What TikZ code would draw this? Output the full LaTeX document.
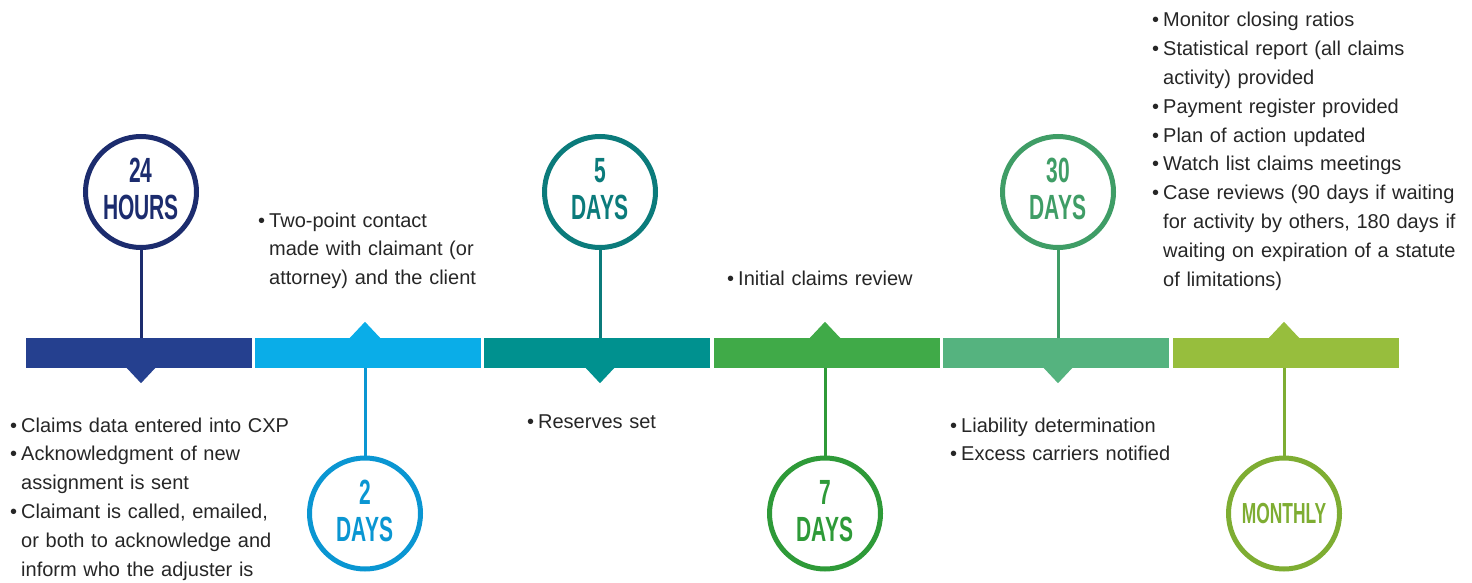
\documentclass[tikz,border=0pt]{standalone}
\usepackage{fontspec}
\setmainfont{Liberation Sans}
\newfontfamily\ringfont[FakeStretch=0.6]{Liberation Sans}
\usetikzlibrary{positioning}

\definecolor{hoursbar}{HTML}{25408F}
\definecolor{hoursring}{HTML}{1C2C6E}
\definecolor{twobar}{HTML}{0AADE8}
\definecolor{tworing}{HTML}{0A96D2}
\definecolor{fivebar}{HTML}{00918F}
\definecolor{fivering}{HTML}{0B7B7B}
\definecolor{sevenbar}{HTML}{40AA48}
\definecolor{sevenring}{HTML}{2E9A38}
\definecolor{thirtybar}{HTML}{55B37F}
\definecolor{thirtyring}{HTML}{3F9D66}
\definecolor{monthbar}{HTML}{97BE3D}
\definecolor{monthring}{HTML}{7EAD32}

\newcommand{\tlitem}[1]{\noindent\makebox[11pt][l]{\textbullet}#1\par}
\newcommand{\tlcont}[1]{\noindent\hspace*{11pt}#1\par}

\tikzset{
    seg/.style={rectangle, minimum width=226pt, minimum height=30pt, inner sep=0pt},
    ring/.style={circle, draw, line width=5pt, minimum size=111pt, inner sep=0pt, fill=white,
        align=center, font=\ringfont\bfseries\fontsize{35}{37}\selectfont},
    stem/.style={line width=3pt},
    note/.style={anchor=base west, inner sep=0pt, text width=330pt, align=left,
        text=black!85, font=\fontsize{20}{28.8}\selectfont}
}

\begin{document}
\begin{tikzpicture}[x=1pt, y=-1pt]
    \useasboundingbox (0,0) rectangle (1472,583);

    % timeline bar
    \node[seg, fill=hoursbar]  (seg1) at (139,353) {};
    \node[seg, fill=twobar]    (seg2) at (368,353) {};
    \node[seg, fill=fivebar]   (seg3) at (597,353) {};
    \node[seg, fill=sevenbar]  (seg4) at (826.5,353) {};
    \node[seg, fill=thirtybar] (seg5) at (1056,353) {};
    \node[seg, fill=monthbar]  (seg6) at (1286,353) {};

    % rings
    \node[ring, draw=hoursring, text=hoursring]   (hours)   at (141,192)   {24\\HOURS\rule[-6pt]{0pt}{0pt}};
    \node[ring, draw=tworing, text=tworing]       (twod)    at (365,513.5) {2\\DAYS\rule[-6pt]{0pt}{0pt}};
    \node[ring, draw=fivering, text=fivering]     (fived)   at (600,192)   {5\\DAYS\rule[-6pt]{0pt}{0pt}};
    \node[ring, draw=sevenring, text=sevenring]   (sevend)  at (825,513.5) {7\\DAYS\rule[-6pt]{0pt}{0pt}};
    \node[ring, draw=thirtyring, text=thirtyring] (thirtyd) at (1058,192)  {30\\DAYS\rule[-6pt]{0pt}{0pt}};
    \node[ring, draw=monthring, text=monthring, font=\ringfont\bfseries\fontsize{29}{31}\selectfont]
        (monthly) at (1284,513.5) {MONTHLY};

    % stems
    \draw[stem, hoursring]  (hours)   -- (hours |- seg1.north);
    \draw[stem, tworing]    (twod)    -- (twod |- seg2.south);
    \draw[stem, fivering]   (fived)   -- (fived |- seg3.north);
    \draw[stem, sevenring]  (sevend)  -- (sevend |- seg4.south);
    \draw[stem, thirtyring] (thirtyd) -- (thirtyd |- seg5.north);
    \draw[stem, monthring]  (monthly) -- (monthly |- seg6.south);

    % pointers
    \fill[hoursbar]  (hours |- seg1.south) ++(-15,-1) -- ++(30,0) -- ++(-15,16) -- cycle;
    \fill[twobar]    (twod |- seg2.north) ++(-16,1) -- ++(32,0) -- ++(-16,-17) -- cycle;
    \fill[fivebar]   (fived |- seg3.south) ++(-15,-1) -- ++(30,0) -- ++(-15,16) -- cycle;
    \fill[sevenbar]  (sevend |- seg4.north) ++(-16,1) -- ++(32,0) -- ++(-16,-17) -- cycle;
    \fill[thirtybar] (thirtyd |- seg5.south) ++(-15,-1) -- ++(30,0) -- ++(-15,16) -- cycle;
    \fill[monthbar]  (monthly |- seg6.north) ++(-16,1) -- ++(32,0) -- ++(-16,-17) -- cycle;

    % notes
    \node[note] (hoursnote) at (10,432) {\tlitem{Claims data entered into CXP}
        \tlitem{Acknowledgment of new}\tlcont{assignment is sent}
        \tlitem{Claimant is called, emailed,}\tlcont{or both to acknowledge and}\tlcont{inform who the adjuster is}};
    \node[note] (twonote) at (258,227) {\tlitem{Two-point contact}
        \tlcont{made with claimant (or}\tlcont{attorney) and the client}};
    \node[note] (fivenote) at (527,428) {\tlitem{Reserves set}};
    \node[note] (sevennote) at (727,285) {\tlitem{Initial claims review}};
    \node[note] (thirtynote) at (950,432) {\tlitem{Liability determination}
        \tlitem{Excess carriers notified}};
    \node[note] (monthnote) at (1152,27) {\tlitem{Monitor closing ratios}
        \tlitem{Statistical report (all claims}\tlcont{activity) provided}
        \tlitem{Payment register provided}
        \tlitem{Plan of action updated}
        \tlitem{Watch list claims meetings}
        \tlitem{Case reviews (90 days if waiting}\tlcont{for activity by others, 180 days if}
        \tlcont{waiting on expiration of a statute}\tlcont{of limitations)}};
\end{tikzpicture}
\end{document}
